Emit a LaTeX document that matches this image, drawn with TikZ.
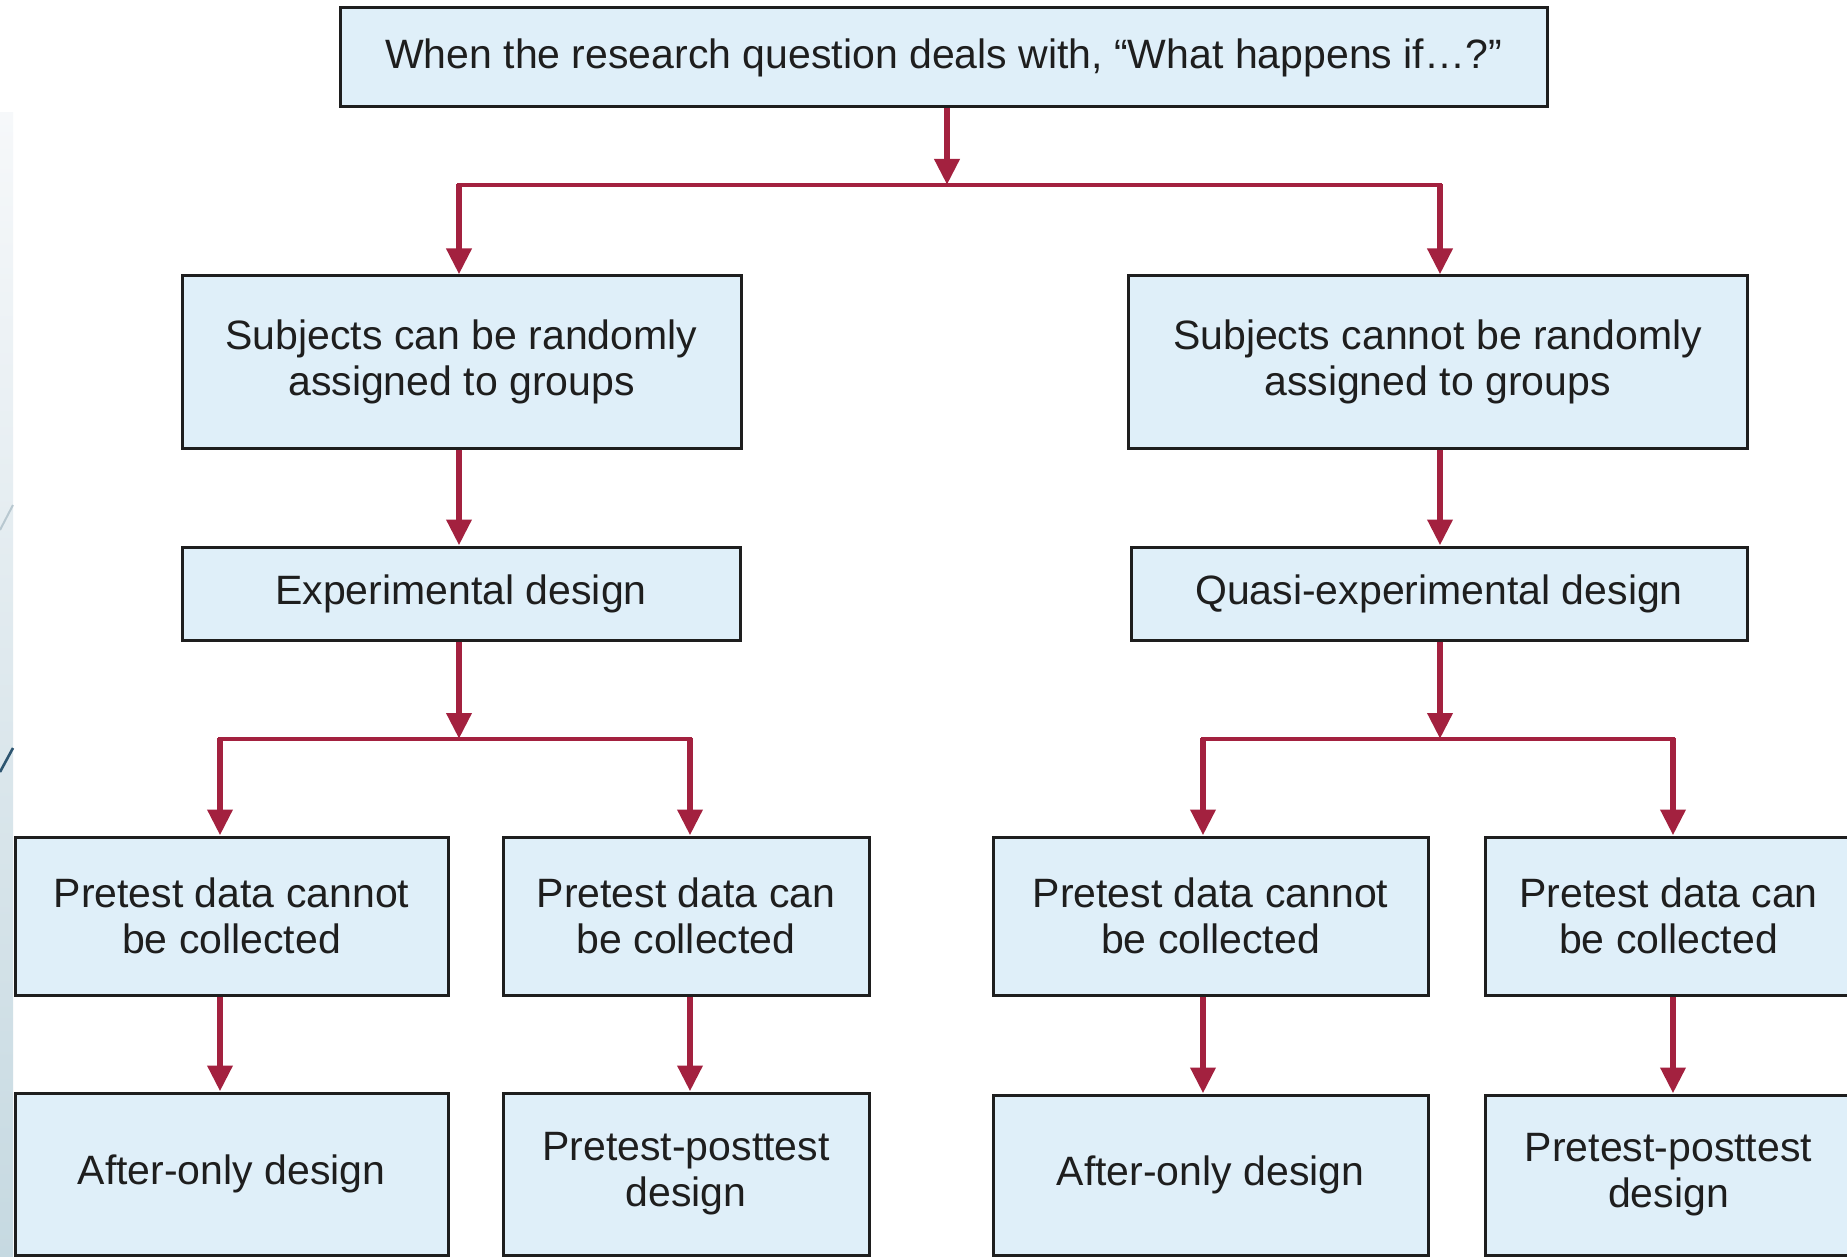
\documentclass[tikz,border=0pt]{standalone}
\usepackage{fontspec}
\setmainfont{Liberation Sans}
\usetikzlibrary{arrows.meta}

\definecolor{boxfill}{RGB}{223,239,249}
\definecolor{boxline}{RGB}{30,30,30}
\definecolor{flow}{RGB}{163,33,63}
\definecolor{textcol}{RGB}{30,30,30}
\definecolor{stripTop}{RGB}{246,248,250}
\definecolor{stripBot}{RGB}{198,217,225}
\definecolor{stripLineA}{RGB}{184,200,208}
\definecolor{stripLineB}{RGB}{45,85,112}

\begin{document}
\begin{tikzpicture}[x=0.5pt,y=-0.5pt,
  box/.style={draw=boxline, fill=boxfill, line width=1.5pt, inner sep=0pt,
    align=center, text=textcol, font=\fontsize{20.5pt}{23pt}\selectfont},
  flowline/.style={draw=flow, line width=3.4pt},
  busline/.style={draw=flow, line width=2.4pt, line cap=rect},
  arrowline/.style={flowline, -{Triangle[width=12pt,length=13pt]}},
]
\useasboundingbox (0,0) rectangle (1847,1257);
\fill[white] (0,0) rectangle (1847,1257);

% side strip with its two slanted strokes
\shade[top color=stripTop, bottom color=stripBot] (0,113) rectangle (13,1257);
\draw[stripLineA, line width=1pt] (0,530) -- (13,505);
\draw[stripLineB, line width=1.3pt] (0,772) -- (13,748);

% boxes
\node[box, minimum width=603.5pt, minimum height=49.5pt] (top) at (943.5,57.5)
  {When the research question deals with, “What happens if…?”};

\node[box, minimum width=279.5pt, minimum height=86pt] (randY) at (461.5,362)
  {Subjects can be randomly\\assigned to groups};
\node[box, minimum width=309.5pt, minimum height=86pt] (randN) at (1437.5,362)
  {Subjects cannot be randomly\\assigned to groups};

\node[box, minimum width=279pt, minimum height=46.5pt] (exp) at (461,593.5)
  {Experimental design};
\node[box, minimum width=308pt, minimum height=46.5pt] (quasi) at (1439,593.5)
  {Quasi-experimental design};

\node[box, minimum width=216.5pt, minimum height=79pt] (eNoPre) at (231.5,916)
  {Pretest data cannot\\be collected};
\node[box, minimum width=183pt, minimum height=79pt] (ePre) at (686,916)
  {Pretest data can\\be collected};
\node[box, minimum width=217.5pt, minimum height=79pt] (qNoPre) at (1210.5,916)
  {Pretest data cannot\\be collected};
\node[box, minimum width=183.5pt, minimum height=79pt] (qPre) at (1668.5,916)
  {Pretest data can\\be collected};

\node[box, minimum width=216.5pt, minimum height=81pt] (eAfter) at (231.5,1174)
  {After-only design};
\node[box, minimum width=183pt, minimum height=81pt] (ePP) at (686,1174)
  {Pretest-posttest\\design};
\node[box, minimum width=217.5pt, minimum height=80pt] (qAfter) at (1210.5,1175)
  {After-only design};
\node[box, minimum width=183.5pt, minimum height=80pt] (qPP) at (1668.5,1175)
  {Pretest-posttest\\design};

% junction points of the connectors
\coordinate (j0) at (947,185);
\coordinate (j0l) at (459,185);
\coordinate (j0r) at (1440,185);
\coordinate (j1) at (459,739);
\coordinate (j1l) at (220,739);
\coordinate (j1r) at (690,739);
\coordinate (j2) at (1440,739);
\coordinate (j2l) at (1203,739);
\coordinate (j2r) at (1673,739);

% first split
\draw[arrowline] (top.south -| j0) -- (j0);
\draw[busline] (j0l) -- (j0r);
\draw[arrowline] ([yshift=0.6pt]j0l) -- (randY.north -| j0l);
\draw[arrowline] ([yshift=0.6pt]j0r) -- (randN.north -| j0r);

% into the two designs
\draw[arrowline] (randY.south -| j0l) -- (exp.north -| j0l);
\draw[arrowline] (randN.south -| j0r) -- (quasi.north -| j0r);

% left split
\draw[arrowline] (exp.south -| j1) -- (j1);
\draw[busline] (j1l) -- (j1r);
\draw[arrowline] ([yshift=0.6pt]j1l) -- (eNoPre.north -| j1l);
\draw[arrowline] ([yshift=0.6pt]j1r) -- (ePre.north -| j1r);

% right split
\draw[arrowline] (quasi.south -| j2) -- (j2);
\draw[busline] (j2l) -- (j2r);
\draw[arrowline] ([yshift=0.6pt]j2l) -- (qNoPre.north -| j2l);
\draw[arrowline] ([yshift=0.6pt]j2r) -- (qPre.north -| j2r);

% final designs
\draw[arrowline] (eNoPre.south -| j1l) -- (eAfter.north -| j1l);
\draw[arrowline] (ePre.south -| j1r) -- (ePP.north -| j1r);
\draw[arrowline] (qNoPre.south -| j2l) -- (qAfter.north -| j2l);
\draw[arrowline] (qPre.south -| j2r) -- (qPP.north -| j2r);
\end{tikzpicture}
\end{document}
